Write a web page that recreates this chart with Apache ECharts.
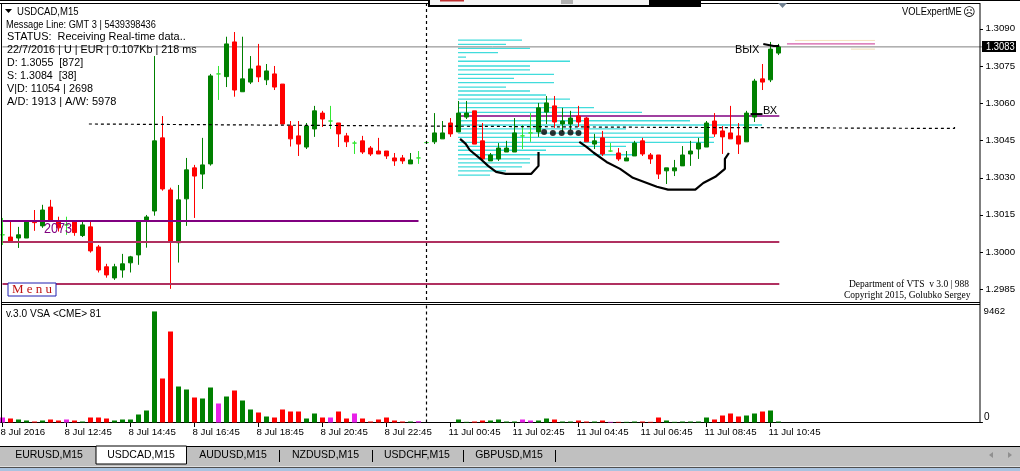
<!DOCTYPE html>
<html>
<head>
<meta charset="utf-8">
<style>html,body{margin:0;padding:0;background:#fff;overflow:hidden}#c{width:1020px;height:471px}</style>
<script src="https://cdn.jsdelivr.net/npm/echarts@6/dist/echarts.min.js"></script>
</head>
<body>
<div id="c"></div>
<script>
const tickLabels = ['8 Jul 2016','8 Jul 12:45','8 Jul 14:45','8 Jul 16:45','8 Jul 18:45','8 Jul 20:45','8 Jul 22:45','11 Jul 00:45','11 Jul 02:45','11 Jul 04:45','11 Jul 06:45','11 Jul 08:45','11 Jul 10:45'];
const priceTicks = [1.3090,1.3075,1.3060,1.3045,1.3030,1.3015,1.3000,1.2985];
const opens = [1.30069,1.30060,1.30056,1.30056,1.30126,1.30105,1.30181,1.30122,1.30109,1.30122,1.30066,1.30101,1.30020,1.29940,1.29895,1.29927,1.29956,1.29988,1.30129,1.30165,1.30460,1.30250,1.30037,1.30214,1.30339,1.30314,1.30355,1.30718,1.30707,1.30847,1.30646,1.30685,1.30750,1.30694,1.30718,1.30677,1.30508,1.30468,1.30423,1.30496,1.30560,1.30528,1.30520,1.30468,1.30439,1.30448,1.30419,1.30407,1.30407,1.30379,1.30379,1.30355,1.30379,1.30441,1.30444,1.30456,1.30520,1.30484,1.30544,1.30569,1.30448,1.30367,1.30375,1.30403,1.30403,1.30468,1.30480,1.30484,1.30564,1.30589,1.30516,1.30516,1.30548,1.30540,1.30435,1.30460,1.30407,1.30399,1.30367,1.30387,1.30448,1.30391,1.30391,1.30327,1.30327,1.30347,1.30395,1.30415,1.30423,1.30528,1.30488,1.30480,1.30468,1.30444,1.30544,1.30698,1.30694,1.30802];
const closes = [1.30069,1.30042,1.30069,1.30122,1.30118,1.30169,1.30126,1.30097,1.30109,1.30078,1.30109,1.30004,1.29927,1.29907,1.29940,1.29952,1.29980,1.30122,1.30141,1.30448,1.30254,1.30042,1.30210,1.30331,1.30306,1.30351,1.30710,1.30718,1.30839,1.30653,1.30698,1.30738,1.30706,1.30730,1.30665,1.30516,1.30456,1.30435,1.30508,1.30569,1.30536,1.30528,1.30476,1.30444,1.30439,1.30403,1.30395,1.30395,1.30387,1.30367,1.30367,1.30371,1.30379,1.30441,1.30480,1.30480,1.30476,1.30560,1.30560,1.30435,1.30375,1.30391,1.30419,1.30419,1.30480,1.30468,1.30480,1.30581,1.30601,1.30524,1.30528,1.30540,1.30524,1.30444,1.30448,1.30395,1.30407,1.30375,1.30379,1.30439,1.30395,1.30375,1.30314,1.30339,1.30339,1.30391,1.30407,1.30439,1.30520,1.30476,1.30464,1.30456,1.30435,1.30560,1.30689,1.30685,1.30818,1.30827];
const lows = [1.30028,1.30042,1.30016,1.30056,1.30085,1.30097,1.30121,1.30082,1.30069,1.30065,1.30060,1.29997,1.29917,1.29896,1.29887,1.29896,1.29917,1.29948,1.30017,1.30146,1.30247,1.29851,1.29957,1.30105,1.30137,1.30254,1.30348,1.30613,1.30665,1.30626,1.30646,1.30677,1.30685,1.30673,1.30653,1.30516,1.30425,1.30387,1.30415,1.30464,1.30504,1.30496,1.30423,1.30423,1.30395,1.30395,1.30387,1.30395,1.30375,1.30347,1.30355,1.30355,1.30355,1.30435,1.30435,1.30456,1.30464,1.30484,1.30536,1.30435,1.30371,1.30367,1.30367,1.30403,1.30403,1.30415,1.30444,1.30464,1.30516,1.30500,1.30484,1.30492,1.30504,1.30444,1.30415,1.30387,1.30403,1.30367,1.30367,1.30387,1.30387,1.30355,1.30294,1.30274,1.30306,1.30347,1.30347,1.30375,1.30423,1.30464,1.30395,1.30456,1.30395,1.30444,1.30524,1.30653,1.30685,1.30794];
const highs = [1.30137,1.30122,1.30101,1.30122,1.30169,1.30190,1.30210,1.30142,1.30142,1.30126,1.30122,1.30122,1.30028,1.29952,1.29952,1.29992,1.29984,1.30125,1.30149,1.30790,1.30548,1.30259,1.30270,1.30379,1.30351,1.30460,1.30718,1.30750,1.30868,1.30887,1.30868,1.30790,1.30839,1.30758,1.30750,1.30677,1.30528,1.30528,1.30520,1.30589,1.30569,1.30589,1.30520,1.30480,1.30448,1.30468,1.30427,1.30460,1.30407,1.30399,1.30391,1.30399,1.30407,1.30448,1.30560,1.30528,1.30540,1.30609,1.30609,1.30569,1.30520,1.30399,1.30439,1.30448,1.30540,1.30512,1.30560,1.30601,1.30629,1.30629,1.30581,1.30569,1.30589,1.30544,1.30476,1.30488,1.30439,1.30419,1.30407,1.30448,1.30460,1.30399,1.30391,1.30339,1.30371,1.30427,1.30448,1.30460,1.30528,1.30560,1.30508,1.30589,1.30520,1.30569,1.30698,1.30758,1.30847,1.30839];
const volumes = [426,341,256,170,85,170,256,170,256,170,85,426,426,341,170,256,256,682,1022,9462,3749,7753,3067,2812,2130,2045,2982,1619,2215,2726,1874,1108,852,511,426,1108,937,937,341,767,426,426,937,341,767,341,85,256,426,170,85,85,114,0,0,0,0,256,57,85,170,170,256,85,85,256,170,170,341,256,85,85,170,85,85,170,57,57,57,85,85,57,426,170,57,85,85,85,426,256,596,767,511,596,767,937,1022,85];
const volumeColorKeys = ['m','r','g','g','r','g','r','r','m','r','g','r','r','r','g','g','g','g','g','g','r','r','g','g','r','g','g','m','g','r','g','g','r','g','r','r','r','r','g','g','r','m','r','r','m','r','r','r','r','r','r','g','m','g','g','g','g','g','g','r','r','g','g','g','g','m','m','g','g','r','g','g','r','r','g','r','m','r','g','g','r','r','r','g','g','g','g','g','g','r','r','r','r','g','g','r','g','g'];
const profilePrices = [1.30854,1.30837,1.30821,1.30804,1.30786,1.30769,1.30750,1.30734,1.30716,1.30700,1.30683,1.30665,1.30649,1.30633,1.30616,1.30600,1.30582,1.30563,1.30548,1.30529,1.30512,1.30496,1.30479,1.30462,1.30442,1.30426,1.30410,1.30392,1.30375,1.30359,1.30343,1.30327,1.30310];
const profileSizes = [8,6,9,5,1,14,9,9,12,7,12,6,9,11,14,11,17,23,30,29,38,21,31,32,32,21,11,22,9,9,8,6,4];
const profileStartBar = 56.94;
const levelPurple = 1.30125, levelCrimsonA = 1.30040, levelCrimsonB = 1.29871, levelBid = 1.30827, levelPurpleB = 1.30548;
const curveA = [[57.2,1.30456],[57.9,1.30436],[58.4,1.30411],[59.9,1.30371],[60.7,1.30347],[61.7,1.30323],[62.9,1.30315],[66.1,1.30315],[67,1.30347],[67,1.30403]];
const curveB = [[72.1,1.30444],[73,1.30424],[73.9,1.30400],[75.5,1.30363],[77.2,1.30335],[78.8,1.30299],[81.8,1.30263],[83.2,1.30251],[86.6,1.30251],[87.6,1.30278],[89.1,1.30303],[90.3,1.30335],[90.3,1.30375],[90.8,1.30399]];
const dashPath = [[10.8,1.30516],[10.8,1.30508],[51.5,1.30508],[51.5,1.30503],[78.5,1.30503],[78.5,1.30498],[119,1.30498],[119,1.30510]];
const dotPoints = [[67.7,1.30484],[68.8,1.30480],[69.9,1.30480],[71,1.30482],[72,1.30480]];
const entryMark = [[93.5,1.30556],[95,1.30556]];
const exitMark = [[95.1,1.30839],[96.4,1.30831],[97.1,1.30831]];
const topRight = [{v:1.30839,a:98.06,b:109.06,c:'#c83090'},{v:1.30853,a:99.06,b:109.06,c:'#f5e2c0'},{v:1.30818,a:106.06,b:109.06,c:'#f0e0b8'}];

const N = 123;
const categories = Array.from({length:N},(_,i)=> i%8===0 && i/8<tickLabels.length ? tickLabels[i/8] : '');
const fnt = '"Liberation Sans",sans-serif';
const blank = ['-','-','-','-'];
const isDoji = i => opens[i]===closes[i];
const bodies = opens.map((o,i)=> isDoji(i)?blank:[o,closes[i],lows[i],highs[i]]);
const dojis = opens.map((o,i)=> isDoji(i)?[o,closes[i],lows[i],highs[i]]:blank);
const volColor = {g:'#008000',r:'#ff0000',m:'#e820e8'};

function lineS(data,color,width,z,extra){
  return Object.assign({type:'line',xAxisIndex:1,yAxisIndex:0,data,symbol:'none',silent:true,z,
    animation:false,connectNulls:false,lineStyle:{color,width}},extra||{});
}
const profileData = [];
profilePrices.forEach((p,i)=>{profileData.push([profileStartBar,p],[profileStartBar+profileSizes[i],p],[null,null]);});

const T = (text,x,y,style,sx)=>({type:'text',x,y,scaleX:sx||1,silent:true,z:50,style:Object.assign({text,fill:'#000',font:'11px '+fnt,verticalAlign:'middle'},style||{})});
const R = (x,y,w,h,fill,extra)=>({type:'rect',silent:true,z:40,shape:{x,y,width:w,height:h},style:Object.assign({fill},extra||{})});
const f115 = {font:'11.5px '+fnt};

const graphic = [
  R(0,0,1020,1,'#000'),R(0,3,980,1,'#000'),
  R(1,3,1,420,'#000'),R(979.5,3,1,420,'#000'),
  R(1,302,979,1,'#000'),R(1,304,979,1,'#000'),
  R(428,0,273,7,'#000'),R(430,0,219,5,'#f4f4f4'),R(440,0,24,1.5,'#c03030'),R(561,0,12,4,'#b0b0b0'),
  {type:'polygon',silent:true,z:41,shape:{points:[[778,3],[787,3],[782.5,8]]},style:{fill:'#708090'}},
  {type:'polygon',silent:true,z:41,shape:{points:[[5,9],[12,9],[8.5,13]]},style:{fill:'#000'}},
  T('USDCAD,M15',17,12,f115,0.83),
  T('Message Line: GMT 3 | 5439398436',6,25,{font:'11px '+fnt},0.84),
  T('STATUS:  Receiving Real-time data..',7,37,f115,0.95),
  T('22/7/2016 | U | EUR | 0.107Kb | 218 ms',7,50,f115,0.94),
  T('D: 1.3055  [872]',7,63,f115,0.93),
  T('S: 1.3084  [38]',7,76,f115,0.93),
  T('V|D: 11054 | 2698',7,89,f115,0.94),
  T('A/D: 1913 | A/W: 5978',7,102,f115,0.96),
  T('2073',44,229,{font:'14px '+fnt,fill:'#800080'},0.9),
  T('ВЫХ',735,50,{font:'11px '+fnt}),
  T('ВХ',763,111,{font:'11px '+fnt}),
  T('VOLExpertME',902,12,{font:'11px '+fnt},0.85),
  T('☹',963,13,{font:'12px "DejaVu Sans"'}),
  R(8,283,48,13,'#fff',{stroke:'#2020b0',lineWidth:1}),
  T('M e n u',12,290,{font:'13px "Liberation Serif"',fill:'#c01010'}),
  T('Department of VTS  v 3.0 | 988',849,284,{font:'9.5px "Liberation Serif"'}),
  T('Copyright 2015, Golubko Sergey',844,295,{font:'9.5px "Liberation Serif"'}),
  R(982,41,34,11,'#000'),
  T('1.3083',986,47,{fill:'#fff'},0.85),
  T('v.3.0 VSA <CME> 81',6,314,{font:'10.5px '+fnt},0.96),
  T('0',984,417,{font:'10px '+fnt}),
  R(0,446,1020,1,'#000'),R(0,447,1020,19.5,'#c0c0c0'),
  R(0,467,1020,1,'#505050'),
  {type:'rect',silent:true,z:40,shape:{x:0,y:468,width:1020,height:3},style:{fill:'#a9c3e0'}},
  R(96,446,90.5,18,'#fff',{stroke:'#000',lineWidth:1}),
  R(279,450,1,12,'#000'),R(372,450,1,12,'#000'),R(463,450,1,12,'#000'),R(555,450,1,12,'#000'),
  {type:'polygon',silent:true,z:41,shape:{points:[[993,452],[993,458],[989,455]]},style:{fill:'#909090'}},
  {type:'polygon',silent:true,z:41,shape:{points:[[1008,452],[1008,458],[1012,455]]},style:{fill:'#909090'}}
];
[['EURUSD,M15',49],['USDCAD,M15',141],['AUDUSD,M15',233],['NZDUSD,M15',325.5],['USDCHF,M15',417],['GBPUSD,M15',509]].forEach(([t,x])=>{
  graphic.push(T(t,x,455,{font:'10.5px '+fnt,align:'center'}));
});

const option = {
  animation:false,
  backgroundColor:'#fff',
  grid:[
    {left:-1.5,top:4,width:984,height:296,containLabel:false,outerBoundsMode:'none'},
    {left:-1.5,top:305,width:984,height:117.5,containLabel:false,outerBoundsMode:'none'}
  ],
  xAxis:[
    {type:'category',gridIndex:0,data:categories,show:false},
    {type:'value',gridIndex:0,min:-0.5,max:122.5,show:false},
    {type:'category',gridIndex:1,data:categories,boundaryGap:true,
      axisLine:{show:true,lineStyle:{color:'#000',width:1}},
      axisTick:{show:false},
      axisLabel:{show:true,interval:i=>categories[i]!=='',align:'left',margin:5,padding:[0,0,0,-2],hideOverlap:false,color:'#000',fontFamily:fnt,fontSize:9.7}},
    {type:'value',gridIndex:1,min:-0.5,max:122.5,show:false}
  ],
  yAxis:[
    {type:'value',gridIndex:0,position:'right',offset:-2.5,min:1.29806,max:1.31,scale:true,splitLine:{show:false},
      axisLine:{show:false},axisTick:{show:false},
      axisLabel:{show:true,margin:5.5,customValues:priceTicks,color:'#000',fontFamily:fnt,fontSize:9.7,formatter:v=>v.toFixed(4)}},
    {type:'value',gridIndex:1,position:'right',offset:-2.5,min:0,max:10011,splitLine:{show:false},
      axisLine:{show:false},axisTick:{show:false},
      axisLabel:{show:true,margin:3.5,customValues:[9462],color:'#000',fontFamily:fnt,fontSize:9.7,formatter:v=>String(v)}}
  ],
  series:[
    lineS(profileData,'#40dcdc',1.3,1),
    lineS([[profileStartBar,levelPurpleB],[97.1,levelPurpleB]],'#a040a0',2,2),
    {type:'candlestick',xAxisIndex:0,yAxisIndex:0,z:5,barWidth:4,animation:false,silent:true,data:bodies,
      itemStyle:{color:'#008000',color0:'#ff0000',borderColor:'#008000',borderColor0:'#ff0000',borderWidth:1}},
    {type:'candlestick',xAxisIndex:0,yAxisIndex:0,z:5,barWidth:4,animation:false,silent:true,data:dojis,
      itemStyle:{color:'#32e632',color0:'#32e632',borderColor:'#32e632',borderColor0:'#32e632',borderColorDoji:'#32e632',borderWidth:1}},
    lineS([[0,levelPurple],[52,levelPurple]],'#800080',2,6),
    lineS([[0,levelCrimsonA],[97.1,levelCrimsonA]],'#b03060',2,6),
    lineS([[0,levelCrimsonB],[97.1,levelCrimsonB]],'#b03060',2,6),
    lineS([[0,levelBid],[122.5,levelBid]],'#808080',1,3),
    lineS(dashPath,'#000',1,7,{lineStyle:{color:'#000',width:1.2,type:[3,3]}}),
    lineS([[53,1.29806],[53,1.31]],'#000',1,7,{lineStyle:{color:'#000',width:1.2,type:[3,3]}}),
    lineS(curveA,'#000',2.2,8),
    lineS(curveB,'#000',2.2,8),
    lineS(entryMark,'#000',2,8),
    lineS(exitMark,'#000',2,8),
    {type:'scatter',xAxisIndex:1,yAxisIndex:0,z:8,silent:true,symbolSize:6,data:dotPoints,itemStyle:{color:'#000'},animation:false},
    ...topRight.map(l=>lineS([[l.a,l.v],[l.b,l.v]],l.c,1,3)),
    {type:'bar',xAxisIndex:2,yAxisIndex:1,barWidth:5,silent:true,animation:false,
      data:volumes.map((v,i)=>({value:v,itemStyle:{color:volColor[volumeColorKeys[i]]}}))},
    {type:'line',xAxisIndex:3,yAxisIndex:1,silent:true,symbol:'none',animation:false,z:7,data:[[53,0],[53,10011]],lineStyle:{color:'#000',width:1.2,type:[3,3]}}
  ],
};
const chart = echarts.init(document.getElementById('c'),null,{renderer:'canvas'});
chart.setOption(option);
const axisMarks = [
  ...priceTicks.map(p=>R(980,Math.round(chart.convertToPixel({yAxisIndex:0},p)),3,1,'#000')),
  ...tickLabels.map((t,i)=>R(Math.floor(chart.convertToPixel({xAxisIndex:3},i*8)),423,1,4,'#000'))
];
chart.setOption({graphic:{elements:graphic.concat(axisMarks)}});
</script>
</body>
</html>
